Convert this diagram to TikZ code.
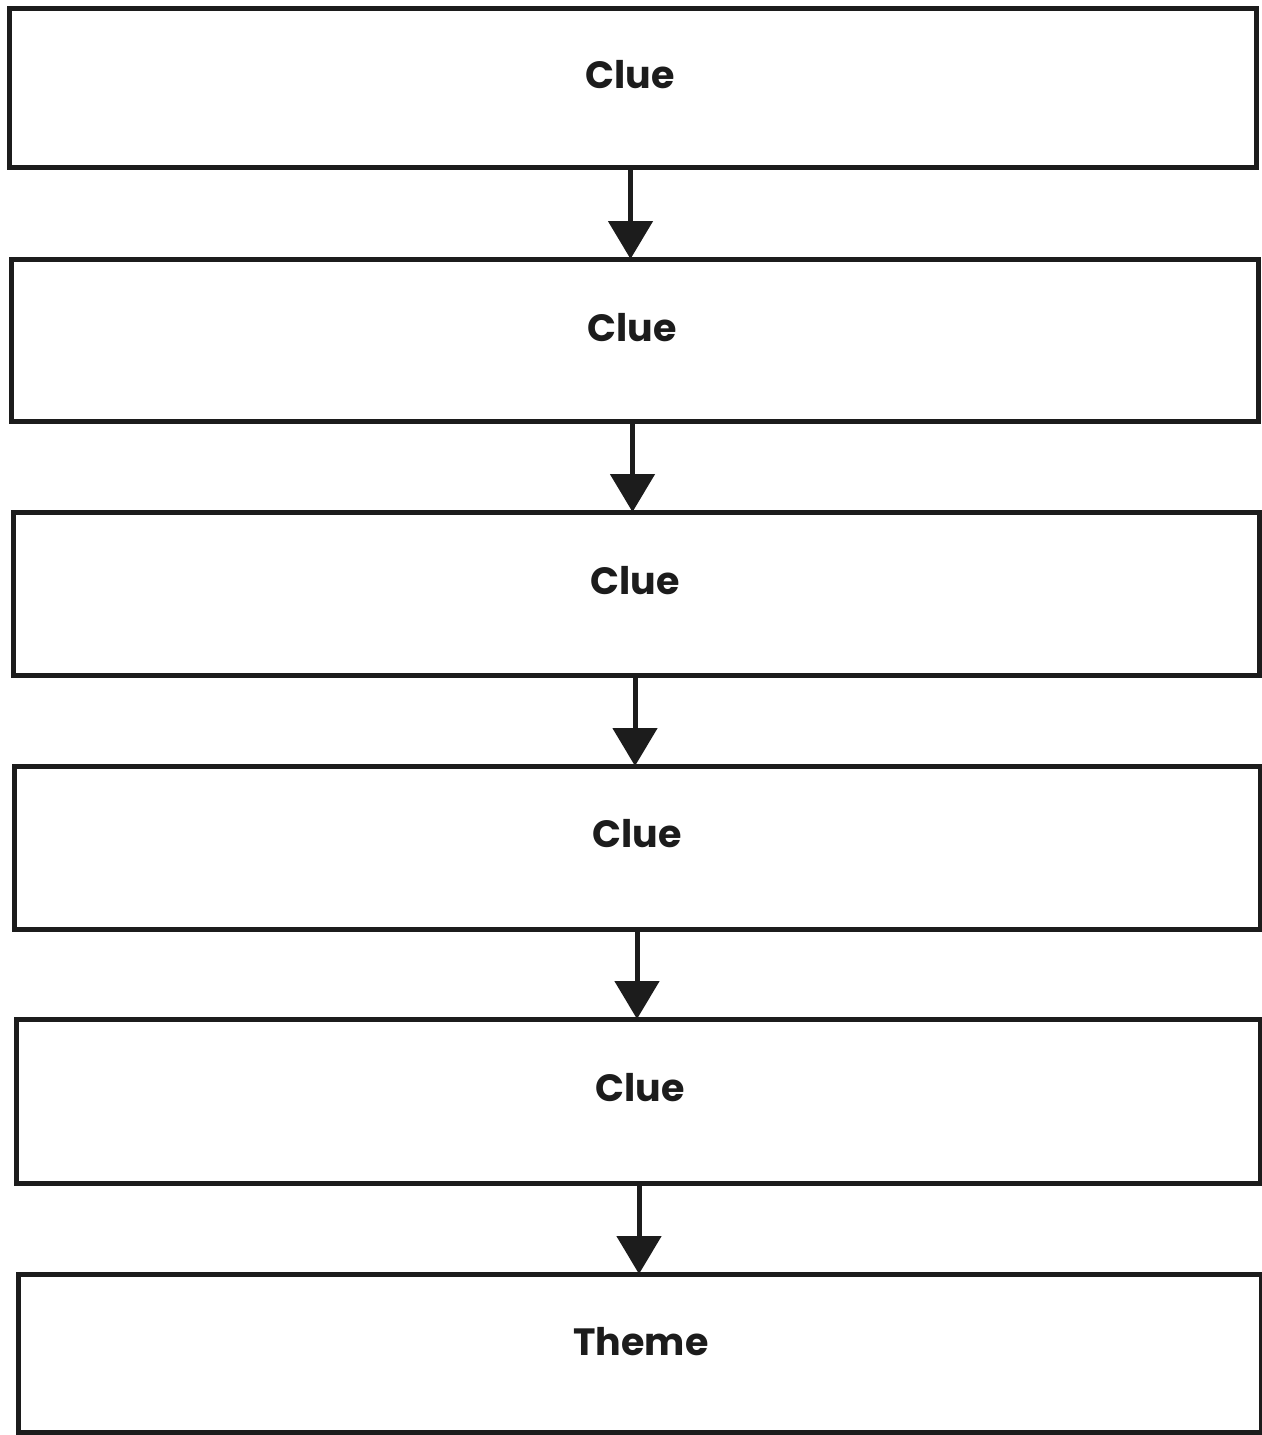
\documentclass[tikz,border=0pt]{standalone}
\usepackage{fontspec}
\setmainfont{Poppins}
\usetikzlibrary{arrows.meta}
\definecolor{ink}{HTML}{1C1C1C}
\tikzset{
  box/.style={draw=ink, line width=5pt, fill=white, inner sep=0pt, outer sep=0pt},
  lbl/.style={text=ink, font=\fontsize{38}{44}\selectfont\bfseries, inner sep=0pt},
  conn/.style={draw=ink, line width=5pt, -{Triangle[length=38pt,width=44pt]}}
}
\begin{document}
\begin{tikzpicture}[x=1pt,y=-1pt]
\useasboundingbox (0,0) rectangle (1261,1435);
\path[fill=white] (0,0) rectangle (1261,1435);
\node[box, minimum width=1247pt, minimum height=159pt] (b1) at (632.5,87.5) {};
\node[box, minimum width=1247pt, minimum height=162pt] (b2) at (634.5,340) {};
\node[box, minimum width=1246pt, minimum height=163pt] (b3) at (636,593.5) {};
\node[box, minimum width=1246pt, minimum height=163pt] (b4) at (637,847.5) {};
\node[box, minimum width=1244pt, minimum height=164pt] (b5) at (638,1101) {};
\node[box, minimum width=1243pt, minimum height=158pt] (b6) at (639.5,1353) {};
\node[lbl] (t1) at (630,75) {Clue};
\node[lbl] (t2) at (632,328) {Clue};
\node[lbl] (t3) at (635,581) {Clue};
\node[lbl] (t4) at (637,834) {Clue};
\node[lbl] (t5) at (640,1088) {Clue};
\node[lbl] (t6) at (641,1342) {Theme};
\draw[conn] ([xshift=-2pt]b1.south) -- ([xshift=-2pt]b1.south |- b2.north);
\draw[conn] ([xshift=-2pt]b2.south) -- ([xshift=-2pt]b2.south |- b3.north);
\draw[conn] ([xshift=-1pt]b3.south) -- ([xshift=-1pt]b3.south |- b4.north);
\draw[conn] (b4.south) -- (b4.south |- b5.north);
\draw[conn] ([xshift=1pt]b5.south) -- ([xshift=1pt]b5.south |- b6.north);
\end{tikzpicture}
\end{document}
